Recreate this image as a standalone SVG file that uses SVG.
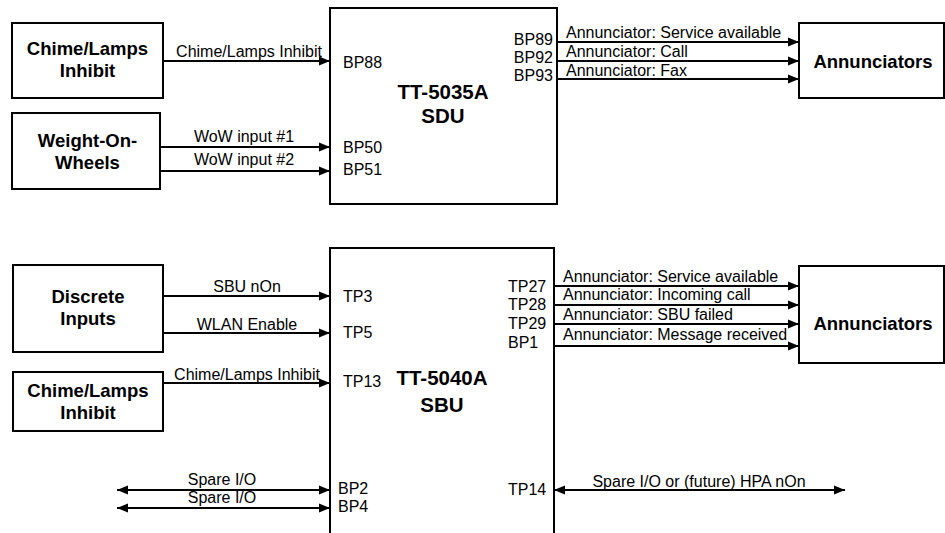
<svg xmlns="http://www.w3.org/2000/svg" width="945" height="533" viewBox="0 0 945 533">
<defs>
<marker id="ah" markerUnits="userSpaceOnUse" markerWidth="11" markerHeight="10" refX="11" refY="5" orient="auto-start-reverse">
<path d="M0,0.5 L11,5 L0,9.5 z" fill="#000"/>
</marker>
<style>
rect{fill:#fff;stroke:#000;stroke-width:2}
.ln{stroke:#000;stroke-width:2;fill:none;marker-end:url(#ah)}
.bi{marker-start:url(#ah)}
text{font-family:"Liberation Sans",Arial,sans-serif;fill:#000}
.s{font-size:16px}
.n{font-size:18.5px;font-weight:bold;text-anchor:middle}
.t{font-size:20.5px;font-weight:bold;text-anchor:middle}
.c{text-anchor:middle}
</style>
</defs>
<rect x="0" y="0" width="945" height="533" style="fill:#fff;stroke:none"/>

<g id="chime1"><rect x="12" y="23" width="151" height="75"/><text class="n" x="87.5" y="55">Chime/Lamps</text><text class="n" x="87.5" y="77">Inhibit</text></g>
<g id="wow"><rect x="12" y="113" width="148" height="76"/><text class="n" x="87.5" y="147">Weight-On-</text><text class="n" x="87.5" y="169">Wheels</text></g>
<g id="sdu"><rect x="330" y="8" width="227" height="196"/><text class="t" x="443" y="99">TT-5035A</text><text class="t" x="443" y="123">SDU</text>
<text class="s" x="343" y="68">BP88</text><text class="s" x="343" y="153">BP50</text><text class="s" x="343" y="175">BP51</text>
<text class="s" x="553" y="45" text-anchor="end">BP89</text><text class="s" x="553" y="63" text-anchor="end">BP92</text><text class="s" x="553" y="81" text-anchor="end">BP93</text></g>
<g id="ann1"><rect x="799" y="23" width="145" height="75"/><text class="n" x="873" y="68">Annunciators</text></g>

<g id="discrete"><rect x="13" y="265" width="150" height="87"/><text class="n" x="88" y="303">Discrete</text><text class="n" x="88" y="325">Inputs</text></g>
<g id="chime2"><rect x="13" y="372" width="150" height="59"/><text class="n" x="88" y="397">Chime/Lamps</text><text class="n" x="88" y="419">Inhibit</text></g>
<g id="sbu"><rect x="330" y="248" width="224" height="300"/><text class="t" x="442" y="385">TT-5040A</text><text class="t" x="442" y="412">SBU</text>
<text class="s" x="343" y="302">TP3</text><text class="s" x="343" y="338">TP5</text><text class="s" x="343" y="387">TP13</text>
<text class="s" x="338" y="494">BP2</text><text class="s" x="338" y="512">BP4</text>
<text class="s" x="508" y="292">TP27</text><text class="s" x="508" y="310">TP28</text><text class="s" x="508" y="329">TP29</text><text class="s" x="508" y="348">BP1</text>
<text class="s" x="508" y="495">TP14</text></g>
<g id="ann2"><rect x="799" y="266" width="145" height="97"/><text class="n" x="873" y="330">Annunciators</text></g>

<g id="connectors">
<path class="ln" d="M163,61 H330"/><text class="s c" x="249" y="57">Chime/Lamps Inhibit</text>
<path class="ln" d="M160,147 H330"/><text class="s c" x="244" y="142">WoW input #1</text>
<path class="ln" d="M160,171 H330"/><text class="s c" x="244" y="165">WoW input #2</text>
<path class="ln" d="M557,42 H799"/><text class="s" x="566" y="38">Annunciator: Service available</text>
<path class="ln" d="M557,61 H799"/><text class="s" x="566" y="57">Annunciator: Call</text>
<path class="ln" d="M557,79 H799"/><text class="s" x="566" y="76">Annunciator: Fax</text>

<path class="ln" d="M163,296 H330"/><text class="s c" x="247" y="292">SBU nOn</text>
<path class="ln" d="M163,333 H330"/><text class="s c" x="247" y="330">WLAN Enable</text>
<path class="ln" d="M163,383 H330"/><text class="s c" x="247" y="380">Chime/Lamps Inhibit</text>
<path class="ln" d="M554,286 H799"/><text class="s" x="563" y="282">Annunciator: Service available</text>
<path class="ln" d="M554,305 H799"/><text class="s" x="563" y="300">Annunciator: Incoming call</text>
<path class="ln" d="M554,324 H799"/><text class="s" x="563" y="320">Annunciator: SBU failed</text>
<path class="ln" d="M554,346 H799"/><text class="s" x="563" y="340">Annunciator: Message received</text>

<path class="ln bi" d="M117,490 H330"/><text class="s c" x="222" y="485">Spare I/O</text>
<path class="ln bi" d="M117,508 H330"/><text class="s c" x="222" y="503">Spare I/O</text>
<path class="ln bi" d="M554,490 H845"/><text class="s c" x="699" y="487">Spare I/O or (future) HPA nOn</text>
</g>
</svg>
